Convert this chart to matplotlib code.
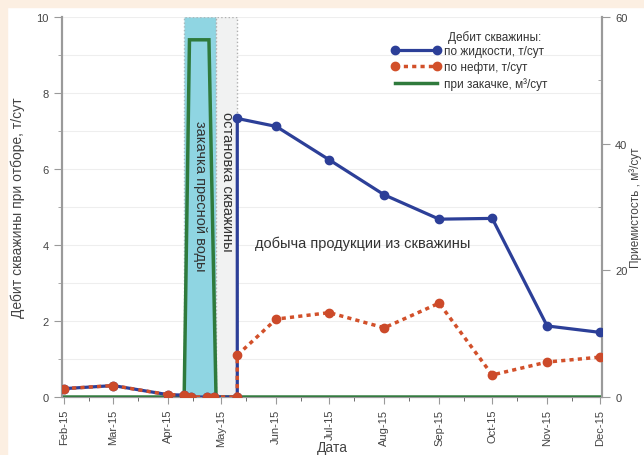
import matplotlib
matplotlib.use("Agg")
import matplotlib.pyplot as plt
import matplotlib.dates as mdates
from matplotlib.patches import Rectangle
import datetime as dt

plt.rcParams['font.family'] = ['Liberation Sans Narrow', 'Liberation Sans', 'DejaVu Sans']

# ---- data ----
liq_dates = ["2015-02-01", "2015-03-01", "2015-04-01", "2015-04-10", "2015-04-14",
             "2015-04-23", "2015-04-27", "2015-05-10", "2015-05-10", "2015-06-01",
             "2015-07-01", "2015-08-01", "2015-09-01", "2015-10-01", "2015-11-01", "2015-12-01"]
liq_vals = [0.22, 0.30, 0.06, 0.05, 0.0, 0.0, 0.0, 0.0, 7.33, 7.12, 6.24, 5.32, 4.68, 4.70, 1.87, 1.70]

oil_dates = liq_dates
oil_vals = [0.22, 0.30, 0.06, 0.05, 0.0, 0.0, 0.0, 0.0, 1.10, 2.05, 2.22, 1.82, 2.47, 0.58, 0.92, 1.05]

inj_dates = ["2015-02-01", "2015-04-10", "2015-04-13", "2015-04-24", "2015-04-28", "2015-12-01"]
inj_vals = [0, 0, 56.4, 56.4, 0, 0]

inj_period = ("2015-04-10", "2015-04-28")
stop_period = ("2015-04-28", "2015-05-10")

tick_months = ["2015-02-01", "2015-03-01", "2015-04-01", "2015-05-01", "2015-06-01", "2015-07-01",
               "2015-08-01", "2015-09-01", "2015-10-01", "2015-11-01", "2015-12-01"]

def d(s):
    return dt.datetime.strptime(s, "%Y-%m-%d")

fig = plt.figure(figsize=(6.44, 4.56), dpi=100)
fig.patch.set_facecolor('white')
# peach frame
fig.patches.append(Rectangle((0, 1 - 8/456), 1, 8/456, transform=fig.transFigure, color='#fcefe2', zorder=0))
fig.patches.append(Rectangle((0, 0), 7/644, 1, transform=fig.transFigure, color='#fcefe2', zorder=0))

ax = fig.add_axes([62/644, 58/456, 540/644, 380/456])
ax2 = ax.twinx()

txt = '#444444'
spine_c = '#9a9a9a'

# grid
for v in range(1, 11):
    ax2.axhline(v * 6, color='#eeeeee', linewidth=0.8, zorder=0.5)

# shaded periods (on the back axes, below the injection line)
ax2.axvspan(d(inj_period[0]), d(inj_period[1]), facecolor='#8fd5e2', edgecolor='#a8b8bc',
            linestyle=':', linewidth=1, zorder=1)
ax2.axvspan(d(stop_period[0]), d(stop_period[1]), facecolor='#f1f2f2', edgecolor='#b0b0b0',
            linestyle=':', linewidth=1, zorder=1)

# injection on right axis
ax2.plot([d(s) for s in inj_dates], inj_vals, color='#2f7a3c', linewidth=2.5, zorder=3,
         solid_joinstyle='miter')

liq_x = [d(s) for s in liq_dates]
ax.plot(liq_x, liq_vals, color='#2c3f98', linewidth=2.3, marker='o', markersize=6, zorder=5)
ax.plot([d(s) for s in oil_dates], oil_vals, color='#d2502a', linewidth=2.5, linestyle=(0, (1.2, 1.2)),
        marker='o', markersize=6, markerfacecolor='#cc4a2a', markeredgecolor='#cc4a2a', zorder=6)

ax.set_zorder(ax2.get_zorder() + 1)
ax.patch.set_visible(False)

ax.set_xlim(d("2015-01-31"), d("2015-12-02"))
ax.set_ylim(0, 10)
ax2.set_ylim(0, 60)

ax.set_xticks([d(s) for s in tick_months])
ax.xaxis.set_major_formatter(mdates.DateFormatter('%b-%y'))
ax.xaxis.set_minor_locator(mdates.DayLocator(bymonthday=[15]))
plt.setp(ax.get_xticklabels(), rotation=90, fontsize=8, color=txt)
ax.set_yticks(range(0, 11, 2))
ax.set_yticks(range(1, 11, 2), minor=True)
ax2.set_yticks([0, 20, 40, 60])
ax2.set_yticks([10, 30, 50], minor=True)

ax.tick_params(axis='y', which='major', direction='out', length=6, colors=spine_c, labelcolor=txt, labelsize=8)
ax.tick_params(axis='y', which='minor', direction='out', length=3, colors=spine_c)
ax.tick_params(axis='x', which='major', direction='out', length=5, colors=spine_c, labelcolor=txt, labelsize=8)
ax.tick_params(axis='x', which='minor', direction='out', length=3, colors='#555555')
ax2.tick_params(axis='y', which='major', direction='out', length=6, colors=spine_c, labelcolor=txt, labelsize=8)
ax2.tick_params(axis='y', which='minor', direction='in', length=3, colors=spine_c)

for a in (ax, ax2):
    a.spines['top'].set_visible(False)
    a.spines['left'].set_color(spine_c)
    a.spines['right'].set_color(spine_c)
    a.spines['bottom'].set_color(spine_c)
    a.spines['left'].set_linewidth(1.5)
    a.spines['right'].set_linewidth(1.5)

ax.set_ylabel('Дебит скважины при отборе, т/сут', fontsize=10, color=txt, labelpad=8)
ax2.set_ylabel('Приемистость , м³/сут', fontsize=8.5, color=txt, labelpad=1)
ax.set_xlabel('Дата', fontsize=10, color=txt, labelpad=-4)

# annotations
ax.text(d("2015-04-19"), 5.3, 'закачка пресной воды', rotation=270, ha='center', va='center',
        fontsize=10.5, color='#333333', zorder=7)
ax.text(d("2015-05-04"), 5.7, 'остановка скважины', rotation=270, ha='center', va='center',
        fontsize=10.5, color='#333333', zorder=7)
ax.text(d("2015-05-20"), 4.05, 'добыча продукции из скважины', ha='left', va='center',
        fontsize=10.5, color='#333333', zorder=7)

# legend
h1, = ax.plot([], [], color='#2c3f98', linewidth=2.3, marker='o', markersize=6)
h2, = ax.plot([], [], color='#d2502a', linewidth=2.5, linestyle=(0, (1.2, 1.2)), marker='o', markersize=6)
h3, = ax.plot([], [], color='#2f7a3c', linewidth=2.5)
leg = ax.legend([h1, h2, h3], ['по жидкости, т/сут', 'по нефти, т/сут', 'при закачке, м³/сут'],
                loc='upper left', bbox_to_anchor=(0.59, 0.955),
                frameon=False, fontsize=8.5, numpoints=2, handlelength=4.2,
                handletextpad=0.3, labelspacing=0.35)
for t in leg.get_texts():
    t.set_color('#333333')
ax.text(0.715, 0.965, 'Дебит скважины:', transform=ax.transAxes, ha='left', va='top',
        fontsize=8.5, color='#333333')

fig.savefig('out.png', dpi=100)
